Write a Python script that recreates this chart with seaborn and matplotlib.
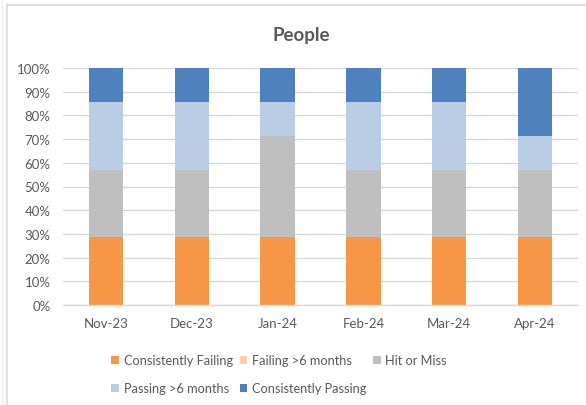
import matplotlib
matplotlib.use("Agg")
import matplotlib.pyplot as plt
from matplotlib.patches import Patch
from matplotlib.lines import Line2D
from matplotlib.ticker import PercentFormatter, FixedLocator
import pandas as pd
import seaborn as sns

# Number of people in each status per month
months = ["Nov-23", "Dec-23", "Jan-24", "Feb-24", "Mar-24", "Apr-24"]
consistently_failing = [2, 2, 2, 2, 2, 2]
failing_6_months = [0, 0, 0, 0, 0, 0]
hit_or_miss = [2, 2, 3, 2, 2, 2]
passing_6_months = [2, 2, 1, 2, 2, 1]
consistently_passing = [1, 1, 1, 1, 1, 2]

statuses = ["Consistently Failing", "Failing >6 months", "Hit or Miss",
            "Passing >6 months", "Consistently Passing"]
colors = ["#F79646", "#FBCDAA", "#BFBFBF", "#B9CDE5", "#4F81BD"]

sns.set_theme(style="white")
plt.rcParams["font.family"] = ["Lato", "DejaVu Sans"]

TEXT = "#595959"
GRID = "#D9D9D9"

counts = pd.DataFrame(
    {
        statuses[0]: consistently_failing,
        statuses[1]: failing_6_months,
        statuses[2]: hit_or_miss,
        statuses[3]: passing_6_months,
        statuses[4]: consistently_passing,
    },
    index=months,
)
share = counts.div(counts.sum(axis=1), axis=0) * 100
tops = share.cumsum(axis=1)

W, H = 586, 406
fig = plt.figure(figsize=(W / 100, H / 100), dpi=100)
ax = fig.add_axes([63 / W, 1 - 306 / H, (578 - 63) / W, (306 - 69) / H])

# 100% stacked bars: draw cumulative totals from the top segment downwards
for status, col in reversed(list(zip(statuses, colors))):
    sns.barplot(x=months, y=tops[status].values, color=col, saturation=1,
                width=0.4, errorbar=None, linewidth=0, ax=ax, zorder=2)

ax.set_ylim(0, 100)
ax.set_xlim(-0.5, len(months) - 0.5)
ax.set_yticks(range(0, 101, 10))
ax.yaxis.set_major_formatter(PercentFormatter(decimals=0))
ax.yaxis.grid(True, color=GRID, linewidth=1.0)
ax.set_axisbelow(True)
ax.set_xlabel("")
ax.set_ylabel("")

for side in ("left", "top", "right"):
    ax.spines[side].set_visible(False)
ax.spines["bottom"].set_color(GRID)
ax.spines["bottom"].set_linewidth(1.0)

ax.xaxis.set_minor_locator(FixedLocator([i - 0.5 for i in range(len(months) + 1)]))
ax.tick_params(axis="x", which="major", length=0, pad=9, labelsize=9.5, labelcolor=TEXT)
ax.tick_params(axis="x", which="minor", length=4, width=1.0, color=GRID, direction="out")
ax.tick_params(axis="y", length=0, pad=9, labelsize=9.5, labelcolor=TEXT)

fig.text(301 / W, 1 - 36 / H, "People", ha="center", va="center",
         fontsize=13.5, fontweight="bold", color=TEXT)

# Legend laid out in rows of three
handles = [Patch(facecolor=c, edgecolor="none", label=s) for s, c in zip(statuses, colors)]
order = [0, 3, 1, 4, 2]
fig.legend([handles[i] for i in order], [statuses[i] for i in order],
           ncol=3, loc="upper left", bbox_to_anchor=(105 / W, 1 - 349 / H),
           frameon=False, fontsize=9.2, labelcolor=TEXT,
           handlelength=0.6, handleheight=0.6, handletextpad=0.35,
           columnspacing=0.55, labelspacing=1.25, borderpad=0)

# Chart frame
fig.add_artist(Line2D([6.5 / W, 6.5 / W], [0, 1 - 5 / H], transform=fig.transFigure,
                      color=GRID, linewidth=1.2))
fig.add_artist(Line2D([6.5 / W, 1], [1 - 5.5 / H, 1 - 5.5 / H], transform=fig.transFigure,
                      color=GRID, linewidth=1.2))
fig.add_artist(Line2D([1.5 / W, 1.5 / W], [0, 1], transform=fig.transFigure,
                      color="#EBEBEB", linewidth=1.0))

fig.savefig("out.png", dpi=100)
